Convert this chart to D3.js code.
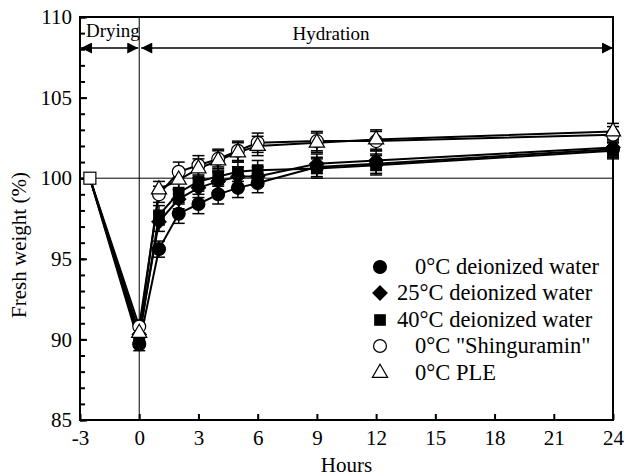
<!DOCTYPE html>
<html><head><meta charset="utf-8">
<script src="https://cdn.jsdelivr.net/npm/d3@7"></script>
<style>body{margin:0;background:#fff}svg{display:block}svg text{font-family:"Liberation Serif","Times New Roman",Tinos,"DejaVu Serif",serif !important;fill:#000}</style>
</head><body><svg id="c" width="627" height="476"></svg>
<script>
const hours = [-2.5, 0, 1, 2, 3, 4, 5, 6, 9, 12, 24];
const deion0 = [100, 89.7, 95.6, 97.8, 98.4, 99.0, 99.4, 99.7, 100.7, 100.9, 101.8];
const deion25 = [100, 90.3, 97.3, 98.7, 99.4, 99.8, 100.1, 100.1, 100.9, 101.1, 101.9];
const deion40 = [100, 90.0, 97.7, 99.1, 99.8, 100.1, 100.4, 100.5, 100.6, 100.8, 101.7];
const shing0 = [100, 90.8, 99.0, 100.4, 100.8, 101.2, 101.7, 102.2, 102.3, 102.3, 102.7];
const ple0 = [100, 90.4, 99.3, 99.9, 100.6, 101.1, 101.6, 102.0, 102.2, 102.4, 102.9];
const err0 = [0.1, 0.4, 0.5, 0.6, 0.6, 0.6, 0.6, 0.6, 0.6, 0.6, 0.5];
const err25 = [0.1, 0.4, 0.6, 0.6, 0.6, 0.6, 0.6, 0.6, 0.6, 0.6, 0.5];
const err40 = [0.1, 0.4, 0.6, 0.6, 0.6, 0.6, 0.6, 0.6, 0.6, 0.6, 0.5];
const errS = [0.1, 0.4, 0.5, 0.6, 0.6, 0.6, 0.6, 0.6, 0.6, 0.6, 0.5];
const errP = [0.1, 0.4, 0.5, 0.6, 0.6, 0.6, 0.6, 0.6, 0.6, 0.6, 0.5];
const seriesNames = ["0\u00B0C deionized water", "25\u00B0C deionized water", "40\u00B0C deionized water", "0\u00B0C \"Shinguramin\"", "0\u00B0C PLE"];
const xTicks = [-3, 0, 3, 6, 9, 12, 15, 18, 21, 24];
const yTicks = [85, 90, 95, 100, 105, 110];
const phases = [{name: "Drying", from: -3, to: 0}, {name: "Hydration", from: 0, to: 24}];

const series = [
  {name: seriesNames[0], vals: deion0, err: err0, sym: "circle", fill: "#000"},
  {name: seriesNames[1], vals: deion25, err: err25, sym: "diamond", fill: "#000"},
  {name: seriesNames[2], vals: deion40, err: err40, sym: "square", fill: "#000"},
  {name: seriesNames[3], vals: shing0, err: errS, sym: "circle", fill: "#fff"},
  {name: seriesNames[4], vals: ple0, err: errP, sym: "triangle", fill: "#fff"}
];

const svg = d3.select("#c");
const L = 80, R = 613, T = 17, B = 420;
const x = d3.scaleLinear().domain([-3, 24]).range([L, R]);
const y = d3.scaleLinear().domain([85, 110]).range([B, T]);
const FONT = '"Liberation Serif","Times New Roman",Tinos,"DejaVu Serif",serif';

svg.append("line").attr("x1", x(0)).attr("x2", x(0)).attr("y1", T).attr("y2", B).attr("stroke", "#000").attr("stroke-width", 1);
svg.append("line").attr("x1", L).attr("x2", R).attr("y1", y(100)).attr("y2", y(100)).attr("stroke", "#000").attr("stroke-width", 1);

const gx = svg.append("g").attr("transform", `translate(0,${B})`)
  .call(d3.axisBottom(x).tickValues(xTicks).tickSize(-6).tickPadding(10).tickFormat(d => String(d)));
const gy = svg.append("g").attr("transform", `translate(${L},0)`)
  .call(d3.axisLeft(y).tickValues(yTicks).tickSize(-7).tickPadding(8).tickFormat(d => String(d)));
const gym = svg.append("g").attr("transform", `translate(${L},0)`)
  .call(d3.axisLeft(y).tickValues(d3.range(85, 111, 1)).tickSize(-5).tickFormat(""));
[gx, gy, gym].forEach(g => {
  g.attr("font-family", FONT).attr("font-size", 21);
  g.select(".domain").remove();
  g.selectAll(".tick line").attr("stroke", "#000").attr("stroke-width", 2);
});

svg.append("rect").attr("x", L).attr("y", T).attr("width", R - L).attr("height", B - T)
  .attr("fill", "none").attr("stroke", "#000").attr("stroke-width", 2);

svg.append("text").attr("x", (L + R) / 2).attr("y", 472).attr("text-anchor", "middle").attr("font-size", 21).text("Hours");
svg.append("text").attr("transform", `translate(26,245) rotate(-90)`).attr("text-anchor", "middle").attr("font-size", 21).text("Fresh weight (%)");

const defs = svg.append("defs");
defs.append("marker").attr("id", "ah").attr("viewBox", "0 0 10 10").attr("refX", 10).attr("refY", 5)
  .attr("markerWidth", 13).attr("markerHeight", 11).attr("markerUnits", "userSpaceOnUse").attr("orient", "auto-start-reverse")
  .append("path").attr("d", "M0,0L10,5L0,10Z").attr("fill", "#000");
const ay = 48;
phases.forEach((p, i) => {
  const x1 = x(p.from) + (i === 0 ? 1 : 2), x2 = x(p.to) - (i === 0 ? 1 : 0);
  svg.append("line").attr("x1", x1).attr("x2", x2).attr("y1", ay).attr("y2", ay)
    .attr("stroke", "#000").attr("stroke-width", 1.5).attr("marker-start", "url(#ah)").attr("marker-end", "url(#ah)");
});
svg.append("text").attr("x", 86).attr("y", 37).attr("font-size", 19).text(phases[0].name);
svg.append("text").attr("x", 331).attr("y", 40).attr("text-anchor", "middle").attr("font-size", 19).text(phases[1].name);

const line = d3.line().x((d, i) => x(hours[i])).y(d => y(d));
series.forEach(s => {
  svg.append("path").datum(s.vals).attr("d", line).attr("fill", "none").attr("stroke", "#000").attr("stroke-width", 2);
});
series.forEach(s => {
  const g = svg.append("g");
  s.vals.forEach((v, i) => {
    if (i === 0) return;
    const cx = x(hours[i]);
    g.append("line").attr("x1", cx).attr("x2", cx).attr("y1", y(v - s.err[i])).attr("y2", y(v + s.err[i])).attr("stroke", "#000").attr("stroke-width", 1.5);
    [v - s.err[i], v + s.err[i]].forEach(e => g.append("line").attr("x1", cx - 6).attr("x2", cx + 6).attr("y1", y(e)).attr("y2", y(e)).attr("stroke", "#000").attr("stroke-width", 1.5));
  });
});
const diamond = {draw(ctx, size) { const r = Math.sqrt(size / 2); ctx.moveTo(0, -r); ctx.lineTo(r, 0); ctx.lineTo(0, r); ctx.lineTo(-r, 0); ctx.closePath(); }};
const symMap = {circle: d3.symbolCircle, diamond: diamond, square: d3.symbolSquare, triangle: d3.symbolTriangle};
const sizeMap = {circle: 130, diamond: 100, square: 110, triangle: 100};
function drawSym(g, s, cx, cy) {
  g.append("path").attr("d", d3.symbol().type(symMap[s.sym]).size(sizeMap[s.sym])())
    .attr("transform", `translate(${cx},${cy})`).attr("fill", s.fill).attr("stroke", "#000").attr("stroke-width", 1.2);
}
svg.append("rect").attr("x", x(hours[0]) - 6).attr("y", y(100) - 6).attr("width", 12).attr("height", 12).attr("fill", "#fff").attr("stroke", "#000").attr("stroke-width", 1.2);
series.forEach(s => {
  const g = svg.append("g");
  s.vals.forEach((v, i) => { if (i > 0) drawSym(g, s, x(hours[i]), y(v)); });
});

const legY = [268, 294, 321, 347, 374];
series.forEach((s, i) => {
  const g = svg.append("g");
  drawSym(g, s, 380, legY[i] - 1);
  const indent = s.name.startsWith("0") ? 18 : 0;
  g.append("text").attr("x", 397 + indent).attr("y", legY[i] + 6).attr("font-size", 22.5).text(s.name);
});
</script></body></html>
